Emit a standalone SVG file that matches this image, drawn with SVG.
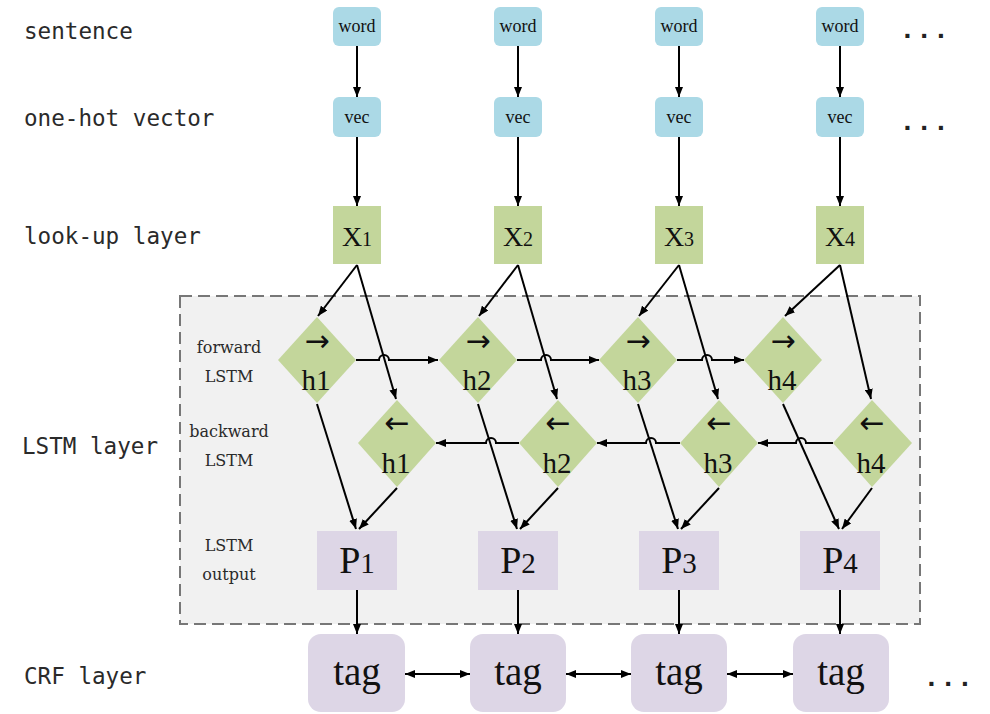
<svg xmlns="http://www.w3.org/2000/svg" width="990" height="714" viewBox="0 0 990 714">
<defs>
<marker id="ah" viewBox="0 0 10 8" markerWidth="10" markerHeight="8" refX="10" refY="4" orient="auto-start-reverse" markerUnits="userSpaceOnUse">
<path d="M0,0 L10,4 L0,8 z" fill="#000"/>
</marker>
<style>
.lbl{font-family:"DejaVu Sans Mono","Liberation Mono",monospace;font-size:22.6px;fill:#2a2a2a}
.sm{font-family:"DejaVu Serif","Liberation Serif",serif;font-size:16px;fill:#2a2a2a;text-anchor:middle}
.blue{fill:#abd9e6}
.green{fill:#c3d69b}
.purple{fill:#ddd6e6}
.ntxt{font-family:"Liberation Serif","DejaVu Serif",serif;fill:#111;text-anchor:middle}
.arr{font-family:"DejaVu Sans",sans-serif;font-size:30px;fill:#111;text-anchor:middle}
.c{fill:none;stroke:#000;stroke-width:2;marker-end:url(#ah)}
.d{fill:none;stroke:#000;stroke-width:2;marker-end:url(#ah);marker-start:url(#ah)}
.dots{font-family:"Liberation Mono",monospace;font-size:28px;font-weight:bold;fill:#222}
</style>
</defs>
<rect width="990" height="714" fill="#fff"/>
<rect id="lstm-box" x="180" y="296" width="740" height="328" fill="#f1f1f1" stroke="#777" stroke-width="2" stroke-dasharray="12,6"/>

<g id="labels">
<text class="lbl" x="24" y="39">sentence</text>
<text class="lbl" x="24" y="126">one-hot vector</text>
<text class="lbl" x="24" y="244">look-up layer</text>
<text class="lbl" x="22" y="454">LSTM layer</text>
<text class="lbl" x="24" y="684">CRF layer</text>
<text class="sm" x="229" y="353">forward</text>
<text class="sm" x="229" y="382">LSTM</text>
<text class="sm" x="229" y="437">backward</text>
<text class="sm" x="229" y="466">LSTM</text>
<text class="sm" x="229" y="551">LSTM</text>
<text class="sm" x="229" y="580">output</text>
<text class="dots" x="899" y="38">...</text>
<text class="dots" x="899" y="130">...</text>
<text class="dots" x="923" y="686">...</text>
</g>

<g id="connectors">
<path class="c" d="M357,46 V97"/><path class="c" d="M518,46 V97"/><path class="c" d="M679,46 V97"/><path class="c" d="M840,46 V97"/>
<path class="c" d="M357,137 V206"/><path class="c" d="M518,137 V206"/><path class="c" d="M679,137 V206"/><path class="c" d="M840,137 V206"/>
<path class="c" d="M357,265 L318,316"/><path class="c" d="M518,265 L479,316"/><path class="c" d="M679,265 L639,316"/><path class="c" d="M840,265 L785,316"/>
<path class="c" d="M357,265 L396,399"/><path class="c" d="M518,265 L557,399"/><path class="c" d="M679,265 L718,399"/><path class="c" d="M840,265 L871,399"/>
<path class="c" d="M356,360 H379 a5,5 0 0 1 10,0 H438"/>
<path class="c" d="M517,360 H541 a5,5 0 0 1 10,0 H599"/>
<path class="c" d="M677,360 H702 a5,5 0 0 1 10,0 H744"/>
<path class="c" d="M519,443 H496 a5,5 0 0 0 -10,0 H436"/>
<path class="c" d="M680,443 H656 a5,5 0 0 0 -10,0 H597"/>
<path class="c" d="M833,443 H806 a5,5 0 0 0 -10,0 H758"/>
<path class="c" d="M317,404 L356,529"/><path class="c" d="M478,404 L517,529"/><path class="c" d="M638,404 L678,529"/><path class="c" d="M783,404 L839,529"/>
<path class="c" d="M397,488 L359,529"/><path class="c" d="M558,488 L520,529"/><path class="c" d="M719,488 L681,529"/><path class="c" d="M872,488 L842,529"/>
<path class="c" d="M357,590 V634"/><path class="c" d="M518,590 V634"/><path class="c" d="M679,590 V634"/><path class="c" d="M840,590 V634"/>
<path class="d" d="M405,674 H470"/><path class="d" d="M566,674 H631"/><path class="d" d="M727,674 H793"/>
</g>

<g id="word1"><rect class="blue" x="333" y="7" width="48" height="39" rx="6"/><text class="ntxt" x="357" y="32" font-size="18">word</text></g>
<g id="word2"><rect class="blue" x="494" y="7" width="48" height="39" rx="6"/><text class="ntxt" x="518" y="32" font-size="18">word</text></g>
<g id="word3"><rect class="blue" x="655" y="7" width="48" height="39" rx="6"/><text class="ntxt" x="679" y="32" font-size="18">word</text></g>
<g id="word4"><rect class="blue" x="816" y="7" width="48" height="39" rx="6"/><text class="ntxt" x="840" y="32" font-size="18">word</text></g>

<g id="vec1"><rect class="blue" x="333" y="97" width="48" height="40" rx="6"/><text class="ntxt" x="357" y="123" font-size="18">vec</text></g>
<g id="vec2"><rect class="blue" x="494" y="97" width="48" height="40" rx="6"/><text class="ntxt" x="518" y="123" font-size="18">vec</text></g>
<g id="vec3"><rect class="blue" x="655" y="97" width="48" height="40" rx="6"/><text class="ntxt" x="679" y="123" font-size="18">vec</text></g>
<g id="vec4"><rect class="blue" x="816" y="97" width="48" height="40" rx="6"/><text class="ntxt" x="840" y="123" font-size="18">vec</text></g>

<g id="X1"><rect class="green" x="333" y="206" width="48" height="58"/><text class="ntxt" x="357" y="246" font-size="28">X<tspan font-size="20">1</tspan></text></g>
<g id="X2"><rect class="green" x="494" y="206" width="48" height="58"/><text class="ntxt" x="518" y="246" font-size="28">X<tspan font-size="20">2</tspan></text></g>
<g id="X3"><rect class="green" x="655" y="206" width="48" height="58"/><text class="ntxt" x="679" y="246" font-size="28">X<tspan font-size="20">3</tspan></text></g>
<g id="X4"><rect class="green" x="816" y="206" width="48" height="58"/><text class="ntxt" x="840" y="246" font-size="28">X<tspan font-size="20">4</tspan></text></g>

<g id="fh1"><path class="green" d="M317,317 L356,360 L317,403 L278,360 z"/><text class="arr" x="317" y="351">→</text><text class="ntxt" x="316" y="390" font-size="29">h1</text></g>
<g id="fh2"><path class="green" d="M478,317 L517,360 L478,403 L439,360 z"/><text class="arr" x="478" y="351">→</text><text class="ntxt" x="477" y="390" font-size="29">h2</text></g>
<g id="fh3"><path class="green" d="M638,317 L677,360 L638,403 L599,360 z"/><text class="arr" x="638" y="351">→</text><text class="ntxt" x="637" y="390" font-size="29">h3</text></g>
<g id="fh4"><path class="green" d="M783,317 L822,360 L783,403 L744,360 z"/><text class="arr" x="783" y="351">→</text><text class="ntxt" x="782" y="390" font-size="29">h4</text></g>

<g id="bh1"><path class="green" d="M397,400 L436,443 L397,487 L358,443 z"/><text class="arr" x="397" y="433">←</text><text class="ntxt" x="396" y="473" font-size="29">h1</text></g>
<g id="bh2"><path class="green" d="M558,400 L597,443 L558,487 L519,443 z"/><text class="arr" x="558" y="433">←</text><text class="ntxt" x="557" y="473" font-size="29">h2</text></g>
<g id="bh3"><path class="green" d="M719,400 L758,443 L719,487 L680,443 z"/><text class="arr" x="719" y="433">←</text><text class="ntxt" x="718" y="473" font-size="29">h3</text></g>
<g id="bh4"><path class="green" d="M872,400 L912,443 L872,487 L833,443 z"/><text class="arr" x="872" y="433">←</text><text class="ntxt" x="871" y="473" font-size="29">h4</text></g>

<g id="P1"><rect class="purple" x="317" y="531" width="80" height="59"/><text class="ntxt" x="357" y="573" font-size="38">P<tspan font-size="29">1</tspan></text></g>
<g id="P2"><rect class="purple" x="478" y="531" width="80" height="59"/><text class="ntxt" x="518" y="573" font-size="38">P<tspan font-size="29">2</tspan></text></g>
<g id="P3"><rect class="purple" x="639" y="531" width="80" height="59"/><text class="ntxt" x="679" y="573" font-size="38">P<tspan font-size="29">3</tspan></text></g>
<g id="P4"><rect class="purple" x="800" y="531" width="80" height="59"/><text class="ntxt" x="840" y="573" font-size="38">P<tspan font-size="29">4</tspan></text></g>

<g id="tag1"><rect class="purple" x="308" y="634" width="97" height="78" rx="13"/><text class="ntxt" x="357" y="685" font-size="39">tag</text></g>
<g id="tag2"><rect class="purple" x="470" y="634" width="96" height="78" rx="13"/><text class="ntxt" x="518" y="685" font-size="39">tag</text></g>
<g id="tag3"><rect class="purple" x="631" y="634" width="96" height="78" rx="13"/><text class="ntxt" x="679" y="685" font-size="39">tag</text></g>
<g id="tag4"><rect class="purple" x="793" y="634" width="96" height="78" rx="13"/><text class="ntxt" x="841" y="685" font-size="39">tag</text></g>
</svg>
